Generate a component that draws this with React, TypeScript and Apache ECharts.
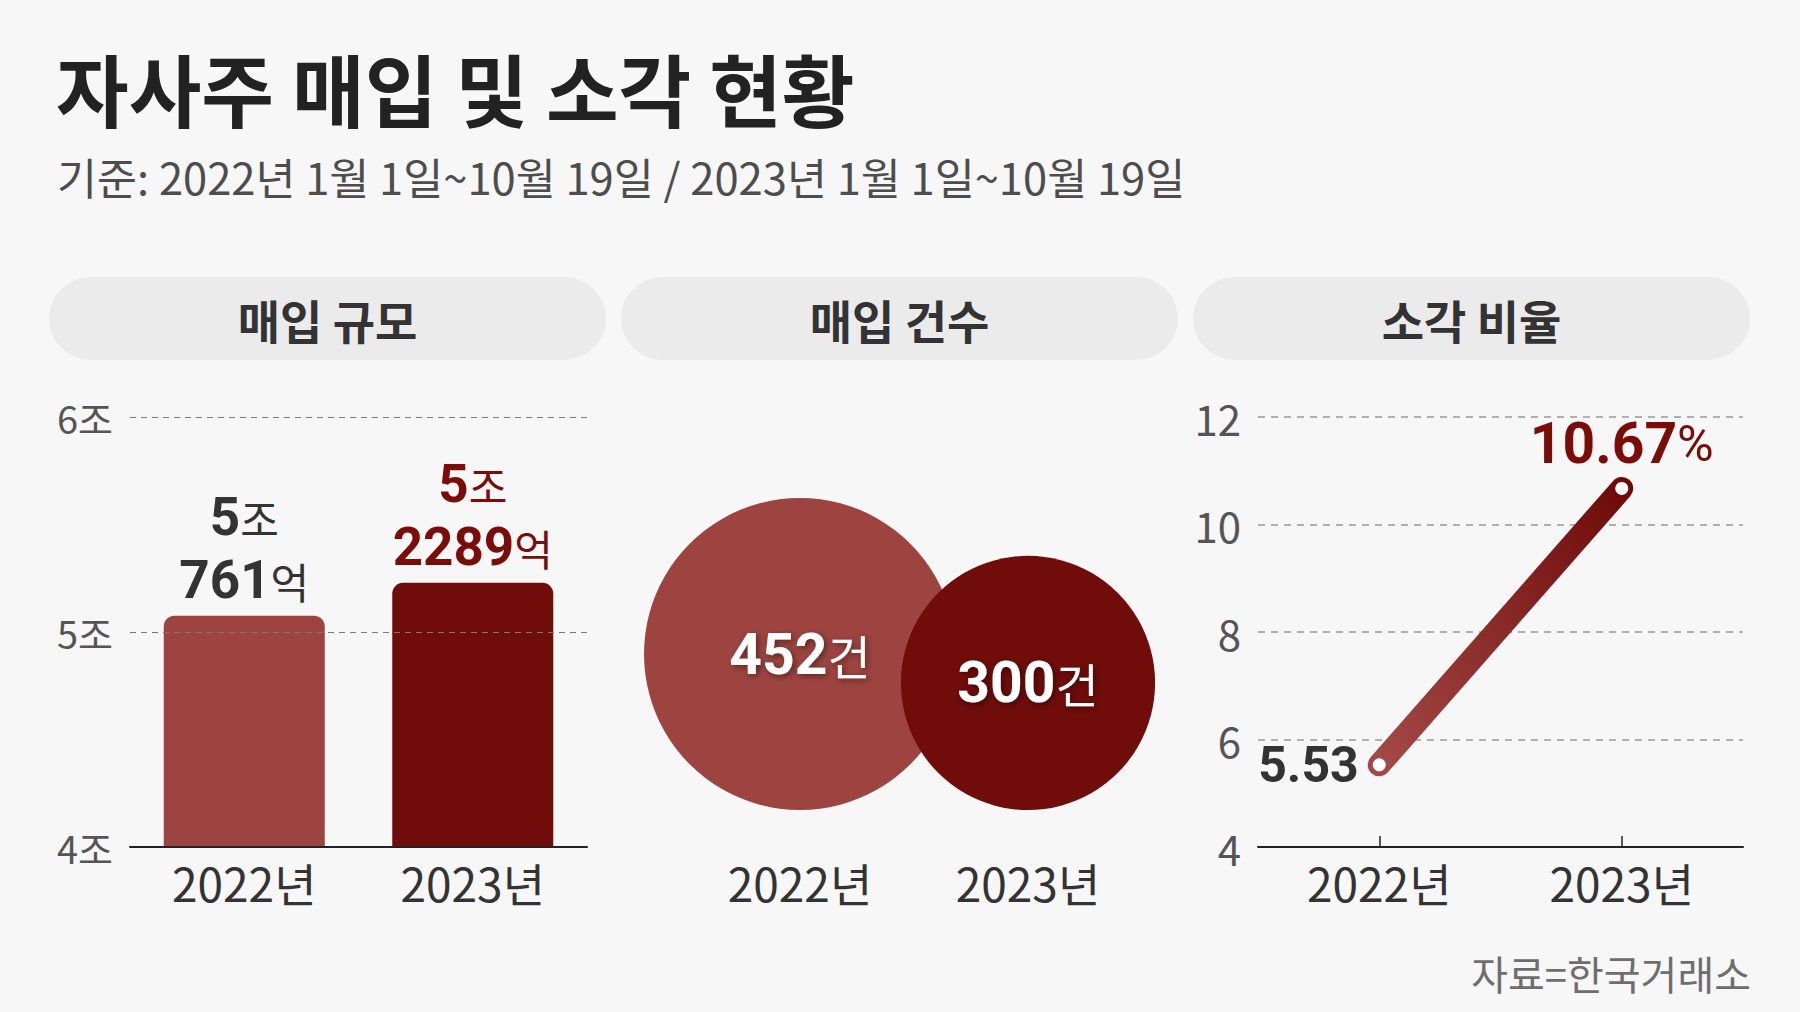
import React, { useEffect, useRef } from "react";
import * as echarts from "echarts";

const years = ["2022년", "2023년"];
const buybackAmountEok = [50761, 52289]; // 억원
const buybackCount = [452, 300]; // 건
const retireRatio = [5.53, 10.67]; // %
const amountAxisTicks = { min: 4, max: 6, interval: 1 }; // 조
const ratioAxisTicks = { min: 4, max: 12, interval: 2 };

const TITLE = "자사주 매입 및 소각 현황";
const SUBTITLE = "기준: 2022년 1월 1일~10월 19일 / 2023년 1월 1일~10월 19일";
const PANEL_TITLES = ["매입 규모", "매입 건수", "소각 비율"];
const SOURCE = "자료=한국거래소";

const KR = "'Noto Sans CJK KR', 'Noto Sans', sans-serif";
const NUM = "'Noto Sans CJK KR', 'Noto Sans', sans-serif";
const DIGIT = "Roboto, 'Noto Sans CJK KR', sans-serif";
const LIGHT_RED = "#9d4440";
const DARK_RED = "#700c0a";
const DARK_TEXT = "#333333";
const RED_TEXT = "#7a0c0a";
const colors = [LIGHT_RED, DARK_RED];
const labelColors = [DARK_TEXT, RED_TEXT];

export default function App() {
  const ref = useRef<HTMLDivElement>(null);
  useEffect(() => {
    if (!ref.current) return;
    const chart = echarts.init(ref.current, undefined, { renderer: "svg" });

    const pills = [
      [49, 606],
      [621, 1178],
      [1193, 1750],
    ];
    const graphic: any[] = [
      {
        type: "text",
        x: 56,
        y: 87,
        style: {
          text: TITLE,
          fontSize: 79,
          fontWeight: "bold",
          fontFamily: KR,
          fill: "#222222",
          align: "left",
          verticalAlign: "middle",
        },
      },
      {
        type: "text",
        x: 57,
        y: 176,
        style: {
          text: SUBTITLE,
          fontSize: 43.5,
          fontWeight: "normal",
          fontFamily: NUM,
          fill: "#4d4d4d",
          align: "left",
          verticalAlign: "middle",
        },
      },
      {
        type: "text",
        x: 1751,
        y: 973,
        style: {
          text: SOURCE,
          fontSize: 40,
          fontFamily: KR,
          fill: "#6e6e6e",
          align: "right",
          verticalAlign: "middle",
        },
      },
    ];
    pills.forEach(([x0, x1], i) => {
      graphic.push({
        type: "rect",
        z: -1,
        shape: { x: x0, y: 277, width: x1 - x0, height: 83, r: 41.5 },
        style: { fill: "#ebebeb" },
      });
      graphic.push({
        type: "text",
        x: (x0 + x1) / 2,
        y: 319,
        style: {
          text: PANEL_TITLES[i],
          fontSize: 46,
          fontWeight: "bold",
          fontFamily: KR,
          fill: DARK_TEXT,
          align: "center",
          verticalAlign: "middle",
        },
      });
    });

    const xLabel = {
      fontSize: 46,
      fontFamily: NUM,
      color: DARK_TEXT,
    };

    const option: any = {
      animation: false,
      backgroundColor: "#f7f7f7",
      graphic,
      grid: [
        { left: 130, right: 1800 - 587, top: 417, bottom: 1012 - 847 },
        { left: 686, right: 1800 - 1142, top: 417, bottom: 1012 - 810 },
        { left: 1258, right: 1800 - 1743, top: 417, bottom: 1012 - 847 },
      ],
      xAxis: [
        {
          type: "category",
          gridIndex: 0,
          data: years,
          z: 6,
          axisLine: { lineStyle: { color: "#222", width: 2 } },
          axisTick: { show: false },
          axisLabel: { ...xLabel, margin: 12 },
        },
        {
          type: "category",
          gridIndex: 1,
          data: years,
          axisLine: { show: false },
          axisTick: { show: false },
          axisLabel: { ...xLabel, margin: 49 },
        },
        {
          type: "category",
          gridIndex: 2,
          data: years,
          z: 6,
          axisLine: { lineStyle: { color: "#222", width: 2 } },
          axisTick: {
            show: true,
            inside: true,
            alignWithLabel: true,
            length: 11,
            lineStyle: { color: "#222", width: 1.5 },
          },
          axisLabel: { ...xLabel, margin: 12 },
        },
      ],
      yAxis: [
        {
          type: "value",
          gridIndex: 0,
          ...amountAxisTicks,
          z: 5,
          axisLine: { show: false },
          axisTick: { show: false },
          axisLabel: {
            formatter: (v: number) => `${v}조`,
            fontSize: 38,
            fontFamily: NUM,
            color: "#555",
            margin: 17,
          },
          splitLine: {
            lineStyle: { color: "#7a7a7a", type: [6, 5], width: 1.2 },
          },
        },
        {
          type: "value",
          gridIndex: 1,
          min: 0,
          max: 1,
          show: false,
        },
        {
          type: "value",
          gridIndex: 2,
          ...ratioAxisTicks,
          axisLine: { show: false },
          axisTick: { show: false },
          axisLabel: {
            fontSize: 42,
            fontFamily: NUM,
            color: "#555",
            margin: 17,
          },
          splitLine: {
            lineStyle: { color: "#b0b0b0", type: [7, 6], width: 2 },
          },
        },
      ],
      series: [
        {
          type: "bar",
          xAxisIndex: 0,
          yAxisIndex: 0,
          barWidth: 161,
          data: buybackAmountEok.map((v, i) => ({
            value: v / 10000,
            itemStyle: { color: colors[i], borderRadius: [11, 11, 0, 0] },
            label: {
              show: true,
              position: "top",
              distance: 4,
              align: "center",
              formatter: () => {
                const jo = Math.floor(v / 10000);
                const eok = v % 10000;
                return `{b|${jo}}{u|조}\n{b|${eok}}{u|억}`;
              },
              rich: {
                b: {
                  fontSize: 53,
                  fontWeight: "bold",
                  fontFamily: DIGIT,
                  color: labelColors[i],
                  lineHeight: 63,
                },
                u: {
                  fontSize: 42,
                  fontWeight: "normal",
                  fontFamily: KR,
                  color: labelColors[i],
                  lineHeight: 63,
                },
              },
            },
          })),
        },
        {
          type: "scatter",
          xAxisIndex: 1,
          yAxisIndex: 1,
          data: buybackCount.map((c, i) => ({
            value: [i, 0],
            symbolSize: 312 * Math.sqrt(c / Math.max(...buybackCount)),
            symbolOffset: [0, "-50%"],
            itemStyle: { color: colors[i], opacity: 1 },
            label: {
              show: true,
              position: "inside",
              formatter: () => `{b|${c}}{u|건}`,
              rich: {
                b: {
                  fontSize: 57,
                  fontWeight: "bold",
                  fontFamily: DIGIT,
                  color: "#ffffff",
                  textShadowColor: "rgba(0,0,0,0.45)",
                  textShadowBlur: 6,
                  textShadowOffsetX: 2,
                  textShadowOffsetY: 2,
                },
                u: {
                  fontSize: 47,
                  fontWeight: "normal",
                  fontFamily: KR,
                  color: "#ffffff",
                  textShadowColor: "rgba(0,0,0,0.45)",
                  textShadowBlur: 6,
                  textShadowOffsetX: 2,
                  textShadowOffsetY: 2,
                },
              },
            },
          })),
        },
        {
          type: "line",
          xAxisIndex: 2,
          yAxisIndex: 2,
          z: 4,
          symbol: "circle",
          symbolSize: 13,
          itemStyle: { color: "#ffffff", borderWidth: 0 },
          lineStyle: {
            width: 23,
            cap: "round",
            color: new echarts.graphic.LinearGradient(0, 1, 1, 0, [
              { offset: 0, color: "#a34946" },
              { offset: 1, color: "#6e0b09" },
            ]),
          },
          data: retireRatio.map((v, i) => ({
            value: v,
            label: {
              show: true,
              position: i === 0 ? "left" : "top",
              distance: i === 0 ? 14 : 10,
              formatter: () =>
                i === 0 ? `{b|${v}}` : `{b|${v}}{p|%}`,
              rich: {
                b: {
                  fontSize: i === 0 ? 50 : 57,
                  fontWeight: "bold",
                  fontFamily: DIGIT,
                  color: labelColors[i],
                },
                p: {
                  fontSize: 50,
                  fontWeight: "normal",
                  fontFamily: DIGIT,
                  color: labelColors[i],
                },
              },
            },
          })),
        },
      ],
    };

    chart.setOption(option);
    return () => chart.dispose();
  }, []);

  return (
    <div
      ref={ref}
      style={{
        position: "fixed",
        left: 0,
        top: 0,
        width: 1800,
        height: 1012,
      }}
    />
  );
}
